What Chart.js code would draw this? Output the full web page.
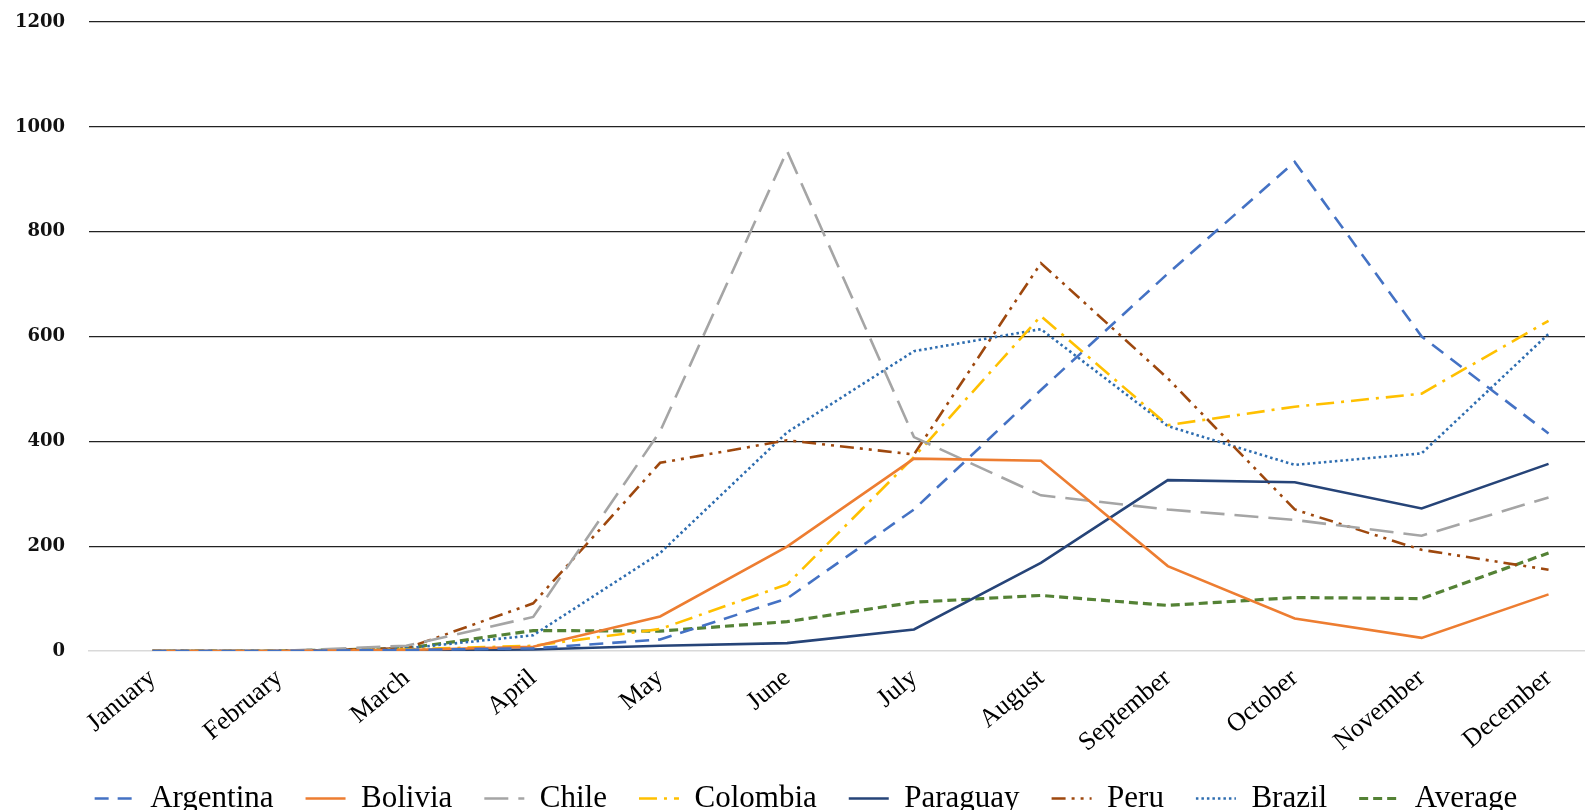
<!DOCTYPE html>
<html>
<head>
<meta charset="utf-8">
<script src="https://cdn.jsdelivr.net/npm/chart.js@4.4.1/dist/chart.umd.min.js"></script>
<style>
  html, body { margin: 0; padding: 0; background: #fff; overflow: hidden; }
  #wrap { position: absolute; left: 0; top: 0; width: 1612px; height: 824px; }
</style>
</head>
<body>
<div id="wrap"><canvas id="chart"></canvas></div>
<script>
const months = ['January', 'February', 'March', 'April', 'May', 'June', 'July',
  'August', 'September', 'October', 'November', 'December'];
const yTicks = [0, 200, 400, 600, 800, 1000, 1200];

const argentina = [0, 0, 2, 5, 22, 100, 270, 498, 720, 933, 600, 415];
const bolivia   = [0, 0, 2, 8, 66, 199, 367, 363, 162, 62, 25, 108];
const chile     = [0, 0, 10, 65, 419, 954, 408, 297, 270, 250, 220, 293];
const colombia  = [0, 0, 3, 10, 42, 127, 370, 639, 431, 466, 491, 630];
const paraguay  = [0, 0, 1, 3, 10, 15, 41, 168, 326, 322, 272, 357];
const peru      = [0, 0, 5, 91, 359, 402, 375, 740, 520, 270, 193, 155];
const brazil    = [0, 0, 5, 30, 187, 417, 572, 614, 429, 355, 377, 605];
const average   = [0, 0, 5, 39, 38, 56, 93, 106, 87, 102, 100, 187];

// one entry per series: name, values, colour, dash, width
const series = [
  ['Argentina', argentina, '#4472C4', [14, 9], 2.6],
  ['Bolivia', bolivia, '#ED7D31', [], 2.6],
  ['Chile', chile, '#A5A5A5', [24, 10], 2.6],
  ['Colombia', colombia, '#FFC000', [18, 7, 3, 7], 2.6],
  ['Paraguay', paraguay, '#264478', [], 2.6],
  ['Peru', peru, '#9E480E', [14, 6, 3, 6, 3, 6], 2.6],
  ['Brazil', brazil, '#2E6DB0', [2.5, 3], 2.6],
  ['Average', average, '#548235', [9, 5], 3.2]
];

const ctx = document.querySelector('#chart').getContext('2d');
new Chart(ctx, {
  type: 'line',
  data: {
    labels: months,
    datasets: series.map(([name, vals, color, dash, w]) => ({
      label: name,
      data: vals,
      borderColor: color,
      backgroundColor: color,
      borderDash: dash,
      borderWidth: w,
      pointRadius: 0,
      pointHoverRadius: 0,
      pointStyle: 'line',
      tension: 0,
      fill: false
    }))
  },
  options: {
    responsive: true,
    maintainAspectRatio: false,
    animation: false,
    layout: { padding: { top: 22, left: 0, right: 0, bottom: 0 } },
    plugins: {
      tooltip: { enabled: false },
      legend: {
        position: 'bottom',
        align: 'center',
        labels: {
          usePointStyle: true,
          pointStyleWidth: 40,
          padding: 32,
          color: '#000',
          font: { family: 'Liberation Serif', size: 31 },
          // point style drops the dash, so put it back from the series list
          generateLabels: (chart) => Chart.defaults.plugins.legend.labels.generateLabels(chart)
            .map((item, i) => Object.assign(item, {
              lineDash: series[i][3],
              lineWidth: series[i][4],
              strokeStyle: series[i][2]
            }))
        }
      }
    },
    scales: {
      x: {
        offset: true,
        grid: { display: false, drawTicks: false },
        border: { display: true, color: '#d9d9d9', width: 1.5 },
        ticks: {
          color: '#000',
          autoSkip: false,
          minRotation: 40,
          maxRotation: 40,
          padding: 12,
          font: { family: 'Liberation Serif', size: 26 }
        },
        afterFit: (scale) => { scale.height = 100; }
      },
      y: {
        min: 0,
        max: 1200,
        afterBuildTicks: (scale) => { scale.ticks = yTicks.map(v => ({ value: v })); },
        grid: {
          drawTicks: false,
          color: (c) => c.tick && c.tick.value === 0 ? 'rgba(0,0,0,0)' : '#222',
          lineWidth: 1.3
        },
        border: { display: false },
        ticks: {
          color: '#111',
          padding: 24,
          font: { family: 'DejaVu Serif', size: 18, weight: 'bold' },
          callback: (v) => String(v)
        },
        afterFit: (scale) => {
          scale.width = 89;
          scale.paddingTop = 0;
          scale.paddingBottom = 0;
        }
      }
    }
  }
});
</script>
</body>
</html>
